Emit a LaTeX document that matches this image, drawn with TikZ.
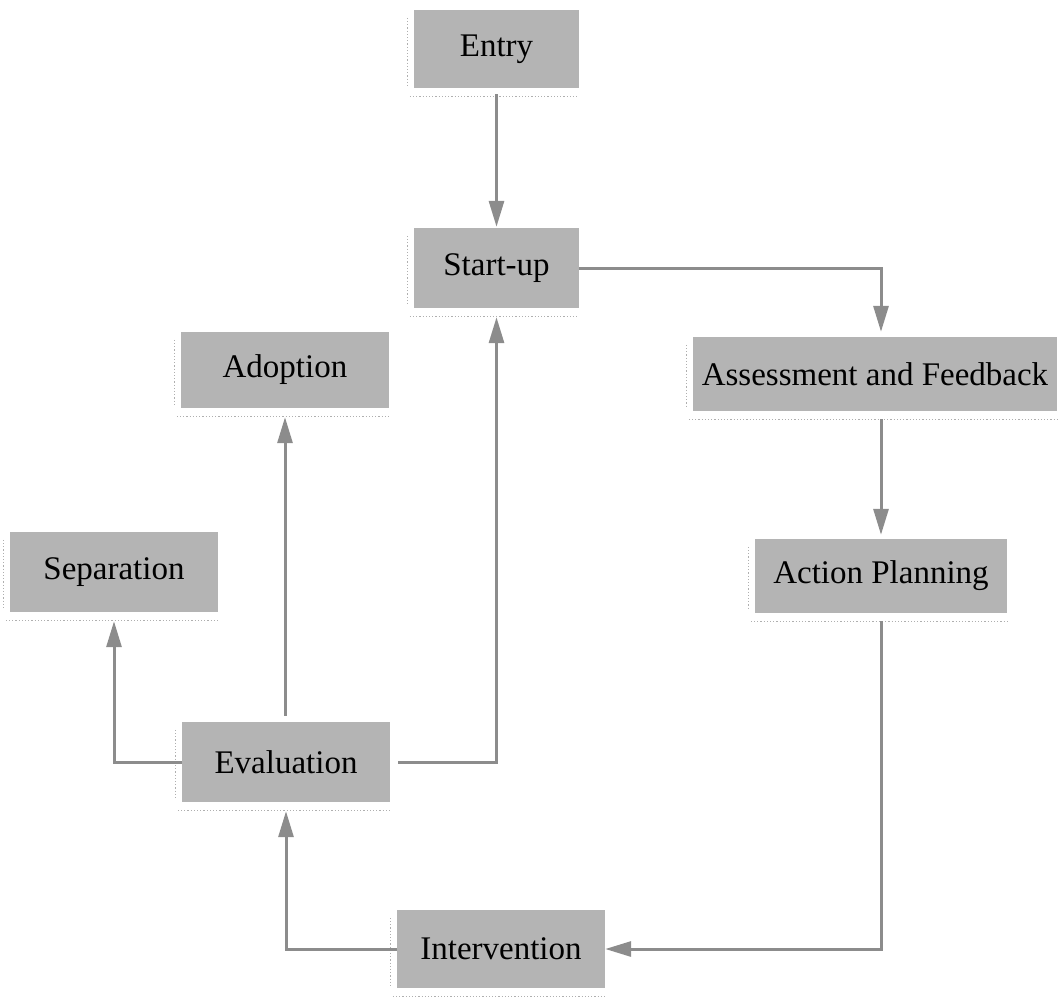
\documentclass[tikz,border=0pt]{standalone}
\usepackage{fontspec}
\setmainfont{Liberation Serif}
\usetikzlibrary{arrows.meta}
\definecolor{boxgray}{RGB}{180,180,180}
\definecolor{linkgray}{RGB}{140,140,140}
\definecolor{shadegray}{RGB}{175,175,175}
\begin{document}
\begin{tikzpicture}[x=1pt,y=-1pt,
  stage/.style={draw=none,fill=boxgray,inner sep=0pt,align=center,
    font=\fontsize{33}{38}\selectfont},
  link/.style={draw=linkgray,line width=3pt,
    -{Triangle[length=26pt,width=15pt,fill=linkgray]}},
  shade/.style={draw=shadegray,line width=1.2pt,dotted}]
\useasboundingbox (0,0) rectangle (1060,997);

% process stages
\node[stage,minimum width=165pt,minimum height=78pt] (entry) at (496.5,49) {Entry};
\node[stage,minimum width=165pt,minimum height=80pt] (startup) at (496.5,268) {Start-up};
\node[stage,minimum width=364pt,minimum height=74pt] (assess) at (875,374) {Assessment and Feedback};
\node[stage,minimum width=252pt,minimum height=74pt] (plan) at (881,576) {Action Planning};
\node[stage,minimum width=208pt,minimum height=78pt] (interv) at (501,949) {Intervention};
\node[stage,minimum width=208pt,minimum height=80pt] (eval) at (286,762) {Evaluation};
\node[stage,minimum width=208pt,minimum height=80pt] (sep) at (114,572) {Separation};
\node[stage,minimum width=208pt,minimum height=76pt] (adopt) at (285,370) {Adoption};

% drop shadows: a rule under each box and a dotted edge on its left
\foreach \n in {entry,startup,assess,plan,interv,eval,sep,adopt}{
  \draw[shade] ([xshift=-4pt,yshift=-8pt]\n.south west) -- ([yshift=-8pt]\n.south east);
  \draw[shade] ([xshift=-6pt,yshift=-8pt]\n.north west) -- ([xshift=-6pt,yshift=3pt]\n.south west);
}

% start points just clear of the shadow rules
\coordinate (e0) at ([yshift=-6pt]entry.south);
\coordinate (a0) at ([yshift=-8pt]plan.north |- assess.south);
\coordinate (p0) at ([yshift=-8pt]plan.south);
\coordinate (v0) at ([yshift=6pt]eval.north -| adopt.south);
\coordinate (v1) at ([xshift=8pt]eval.east);

% connectors
\draw[link,shorten >=1pt] (e0) -- (startup.north);
\draw[link,shorten >=5pt] (startup.east) -| (plan.north |- assess.north);
\draw[link,shorten >=4pt] (a0) -- (plan.north);
\draw[link] (p0) |- (interv.east);
\draw[link,shorten >=9pt] (interv.west) -| (eval.south);
\draw[link,shorten >=9pt] (eval.west) -| (sep.south);
\draw[link,shorten >=9pt] (v0) -- (adopt.south);
\draw[link,shorten >=9pt] (v1) -| (startup.south);
\end{tikzpicture}
\end{document}
